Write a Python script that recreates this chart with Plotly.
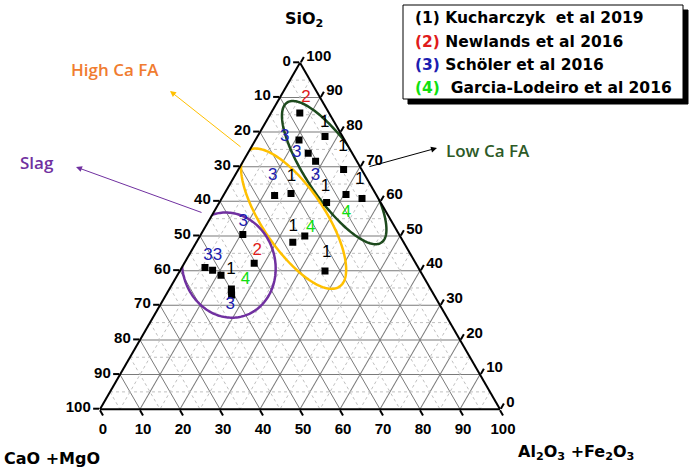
import numpy as np
import plotly.graph_objects as go

W, H = 692, 473

# point compositions (SiO2, CaO+MgO, Al2O3+Fe2O3, %)
sio2 = [85.5, 77.7, 78.7, 73.9, 71.6, 69.2, 61.7, 62.3, 59.7, 62.0, 60.8,
        50.0, 39.9, 48.2, 42.1, 50.4, 40.9, 40.1, 38.7, 34.7, 33.9, 33.0]
cao_mgo = [7.3, 11.4, 4.4, 11.0, 10.3, 4.5, 25.5, 21.1, 13.5, 7.5, 4.1,
           23.8, 23.8, 27.7, 40.4, 39.1, 53.3, 51.8, 50.4, 49.8, 50.2, 50.6]
al_fe = [7.2, 10.9, 16.9, 15.1, 18.1, 26.3, 12.8, 16.6, 26.8, 30.5, 35.1,
         26.2, 36.3, 24.1, 17.5, 10.5, 5.8, 8.1, 10.9, 15.5, 15.9, 16.4]

# study numbers written beside the points
label_text = ["2", "1", "3", "3", "1", "3", "1", "3", "1", "1",
              "4", "1", "4", "1", "3", "2", "33", "1", "4", "3"]
label_sio2 = [89.8, 82.6, 78.6, 74.0, 75.9, 67.4, 67.2, 67.4, 66.3, 64.2,
              56.7, 52.8, 52.4, 45.2, 54.0, 45.6, 44.2, 40.3, 37.3, 30.1]
label_cao = [3.6, 2.5, 14.5, 13.8, 1.3, 23.1, 18.5, 12.4, 1.9, 11.5,
             10.0, 25.3, 21.1, 20.7, 37.2, 37.9, 49.7, 47.1, 45.0, 52.4]
label_al = [6.6, 14.9, 6.9, 12.2, 22.8, 9.5, 14.3, 20.2, 31.8, 24.3,
            33.3, 21.9, 26.5, 34.1, 8.8, 16.5, 6.1, 12.6, 17.7, 17.5]

study_colors = {"1": "#000000", "2": "#e01b1b", "3": "#1c1cb0", "4": "#10e010"}
studies = ["Kucharczyk  et al 2019", "Newlands et al 2016",
           "Schöler et al 2016", " Garcia-Lodeiro et al 2016"]

# material fields: centre (SiO2, CaO, Al), semi axes, tilt (deg), colour
fields = [
    ("Low Ca FA", 68.3, 7.3, 24.4, 21.1, 6.75, -56, "#1d4a1d"),
    ("High Ca FA", 55.0, 24.1, 20.9, 20.5, 7.75, -56, "#ffc000"),
    ("Slag", 41.6, 47.0, 11.4, 13.25, 11.6, -75, "#7030a0"),
]


def ellipse(s, ca, al, ra, rb, ang):
    cx, cy = al + s / 2, s * np.sqrt(3) / 2
    t = np.linspace(0, 2 * np.pi, 200)
    th = np.radians(ang)
    x = cx + ra * np.cos(t) * np.cos(th) - rb * np.sin(t) * np.sin(th)
    y = cy + ra * np.cos(t) * np.sin(th) + rb * np.sin(t) * np.cos(th)
    es = 2 * y / np.sqrt(3)
    eal = x - es / 2
    return es, 100 - es - eal, eal


def px(x, y):
    return x / W, 1 - y / H


def note(fig, text, x, y, font, xanchor="center"):
    xp, yp = px(x, y)
    fig.add_annotation(text=text, x=xp, y=yp, xref="paper", yref="paper",
                       xanchor=xanchor, yanchor="middle", showarrow=False, font=font)


fig = go.Figure()

# dotted minor grid at the 5s
ga, gb, gc = [], [], []
for k in range(5, 100, 10):
    ga += [k, k, None, 100 - k, 0, None, 100 - k, 0, None]
    gb += [100 - k, 0, None, k, k, None, 0, 100 - k, None]
    gc += [0, 100 - k, None, 0, 100 - k, None, k, k, None]
fig.add_trace(go.Scatterternary(a=ga, b=gb, c=gc, mode="lines", hoverinfo="skip",
                                line=dict(color="#c0c0c0", width=1, dash="dot")))

for name, s, ca, al, ra, rb, ang, col in fields:
    ea, eb, ec = ellipse(s, ca, al, ra, rb, ang)
    fig.add_trace(go.Scatterternary(a=ea, b=eb, c=ec, mode="lines", name=name,
                                    line=dict(color=col, width=2.5), cliponaxis=False))

fig.add_trace(go.Scatterternary(a=sio2, b=cao_mgo, c=al_fe, mode="markers",
                                marker=dict(symbol="square", size=7, color="black")))

fig.add_trace(go.Scatterternary(a=label_sio2, b=label_cao, c=label_al, mode="text",
                                text=label_text, cliponaxis=False,
                                textfont=dict(family="Liberation Sans, Arial", size=17,
                                              color=[study_colors[t[0]] for t in label_text])))

ticks = list(range(0, 101, 10))
tickfont = dict(family="Liberation Sans, Arial", size=15, color="black", weight="bold")
axis = dict(tickvals=ticks, ticktext=[str(100 - v) for v in ticks], ticks="outside",
            ticklen=6, tickwidth=1.5, tickcolor="black", tickfont=tickfont,
            linecolor="black", linewidth=2, gridcolor="#7a7a7a", gridwidth=1,
            title=dict(text=""))

fig.update_layout(
    width=W, height=H, showlegend=False,
    margin=dict(l=0, r=0, t=0, b=0),
    paper_bgcolor="white",
    ternary=dict(sum=100, bgcolor="white",
                 domain=dict(x=[100 / W, 500 / W], y=[1 - 410 / H, 1 - 62 / H]),
                 aaxis=axis, baxis=axis, caxis=axis),
)

bold = dict(family="DejaVu Sans", size=16, color="black", weight="bold")
note(fig, "SiO<sub>2</sub>", 304, 19, bold)
note(fig, "CaO +MgO", 52, 458, bold)
note(fig, "Al<sub>2</sub>O<sub>3</sub> +Fe<sub>2</sub>O<sub>3</sub>", 576, 452, bold)

# field names with arrows
side = dict(family="Open Sans", size=17, weight=600)
for (name, s, ca, al, ra, rb, ang, col), (tx, ty), (hx, hy), (sx, sy), tcol in zip(
        fields,
        [(488, 150), (115, 69), (37, 162)],
        [(437, 148), (170, 91), (76, 167)],
        [(368, 167), (242, 148), (203, 213)],
        ["#2d5a27", "#f07c30", "#7030a0"]):
    xp, yp = px(hx, hy)
    fig.add_annotation(x=xp, y=yp, xref="paper", yref="paper", text="",
                       showarrow=True, arrowhead=2, arrowsize=1.2, arrowwidth=1,
                       arrowcolor="black" if name == "Low Ca FA" else col,
                       ax=sx - hx, ay=sy - hy)
    note(fig, name, tx, ty, dict(side, color=tcol))

# legend box with drop shadow
x0, y0 = px(408, 104)
x1, y1 = px(688, 10)
fig.add_shape(type="rect", xref="paper", yref="paper", x0=x0, y0=y0, x1=x1, y1=y1,
              fillcolor="black", line=dict(color="black", width=1))
x0, y0 = px(403, 99)
x1, y1 = px(683, 5)
fig.add_shape(type="rect", xref="paper", yref="paper", x0=x0, y0=y0, x1=x1, y1=y1,
              fillcolor="white", line=dict(color="black", width=1))
legfont = dict(family="DejaVu Sans", size=15.5, color="black", weight="bold")
for i, (study, ly) in enumerate(zip(studies, [18, 42, 65, 88])):
    key = str(i + 1)
    note(fig, "<span style='color:%s'>(%s)</span> %s"
         % (study_colors[key], key, study.replace("  ", "&nbsp; ")),
         413, ly, legfont, xanchor="left")

fig.write_html("out.html", config={"displayModeBar": False},
               post_script="document.body.style.margin='0';")
